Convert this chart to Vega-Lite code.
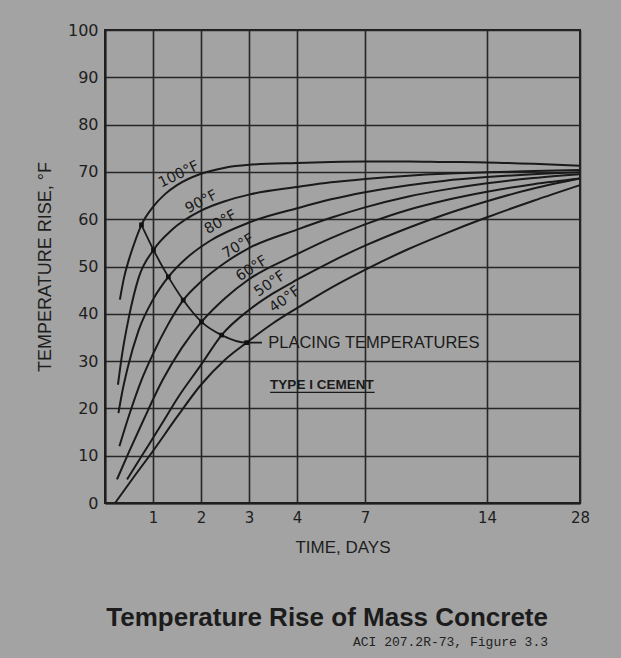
{
  "$schema": "https://vega.github.io/schema/vega-lite/v6.json",
  "width": 475,
  "height": 473,
  "autosize": {"type": "none"},
  "padding": {"left": 105, "top": 30, "right": 41, "bottom": 155},
  "background": "#a3a3a3",
  "config": {"view": {"stroke": "#1e1e1e", "strokeWidth": 2}},
  "title": {
    "text": "Temperature Rise of Mass Concrete",
    "subtitle": "ACI 207.2R-73, Figure 3.3",
    "orient": "bottom",
    "anchor": "end",
    "frame": "group",
    "dx": -32,
    "offset": 50,
    "font": "Liberation Sans",
    "fontSize": 26,
    "fontWeight": "bold",
    "color": "#1c1c1c",
    "subtitleFont": "Liberation Mono",
    "subtitleFontSize": 13,
    "subtitleColor": "#222222",
    "subtitlePadding": 5
  },
  "datasets": {
    "curves": [
      {"curve": "100", "t": 0.31, "v": 43}, {"curve": "100", "t": 0.4, "v": 47.8}, {"curve": "100", "t": 0.5, "v": 51.5}, {"curve": "100", "t": 0.6, "v": 54.6}, {"curve": "100", "t": 0.76, "v": 58.8}, {"curve": "100", "t": 1, "v": 62.6}, {"curve": "100", "t": 1.25, "v": 65.3}, {"curve": "100", "t": 1.5, "v": 67.2}, {"curve": "100", "t": 2, "v": 69.6}, {"curve": "100", "t": 2.5, "v": 70.9}, {"curve": "100", "t": 3, "v": 71.5}, {"curve": "100", "t": 4, "v": 71.9}, {"curve": "100", "t": 5.5, "v": 72.1}, {"curve": "100", "t": 7, "v": 72.2}, {"curve": "100", "t": 9.5, "v": 72.2}, {"curve": "100", "t": 11.5, "v": 72.1}, {"curve": "100", "t": 14, "v": 72}, {"curve": "100", "t": 21, "v": 71.7}, {"curve": "100", "t": 28, "v": 71.3},
      {"curve": "90", "t": 0.27, "v": 25}, {"curve": "90", "t": 0.35, "v": 31}, {"curve": "90", "t": 0.5, "v": 39.4}, {"curve": "90", "t": 0.7, "v": 47.6}, {"curve": "90", "t": 1.01, "v": 53.5}, {"curve": "90", "t": 1.4, "v": 57.8}, {"curve": "90", "t": 2, "v": 61.8}, {"curve": "90", "t": 2.5, "v": 63.8}, {"curve": "90", "t": 3, "v": 65.2}, {"curve": "90", "t": 4, "v": 66.8}, {"curve": "90", "t": 5.5, "v": 67.8}, {"curve": "90", "t": 7, "v": 68.5}, {"curve": "90", "t": 9.5, "v": 69.2}, {"curve": "90", "t": 11.5, "v": 69.6}, {"curve": "90", "t": 14, "v": 69.9}, {"curve": "90", "t": 21, "v": 70.2}, {"curve": "90", "t": 28, "v": 70.4},
      {"curve": "80", "t": 0.28, "v": 19}, {"curve": "80", "t": 0.35, "v": 23}, {"curve": "80", "t": 0.47, "v": 28.5}, {"curve": "80", "t": 0.7, "v": 36.5}, {"curve": "80", "t": 1, "v": 43}, {"curve": "80", "t": 1.32, "v": 47.8}, {"curve": "80", "t": 1.7, "v": 51.8}, {"curve": "80", "t": 2.2, "v": 55.5}, {"curve": "80", "t": 3, "v": 59.3}, {"curve": "80", "t": 4, "v": 62.3}, {"curve": "80", "t": 5.5, "v": 64.2}, {"curve": "80", "t": 7, "v": 65.7}, {"curve": "80", "t": 9.5, "v": 67.2}, {"curve": "80", "t": 11.5, "v": 68.1}, {"curve": "80", "t": 14, "v": 68.9}, {"curve": "80", "t": 21, "v": 69.5}, {"curve": "80", "t": 28, "v": 69.9},
      {"curve": "70", "t": 0.3, "v": 12}, {"curve": "70", "t": 0.5, "v": 18.5}, {"curve": "70", "t": 0.76, "v": 26}, {"curve": "70", "t": 1, "v": 31.5}, {"curve": "70", "t": 1.3, "v": 37.5}, {"curve": "70", "t": 1.63, "v": 42.9}, {"curve": "70", "t": 2, "v": 46.8}, {"curve": "70", "t": 2.5, "v": 50.8}, {"curve": "70", "t": 3, "v": 53.9}, {"curve": "70", "t": 4, "v": 57.8}, {"curve": "70", "t": 5.5, "v": 60.3}, {"curve": "70", "t": 7, "v": 62.5}, {"curve": "70", "t": 9.5, "v": 64.8}, {"curve": "70", "t": 11.5, "v": 66.2}, {"curve": "70", "t": 14, "v": 67.6}, {"curve": "70", "t": 21, "v": 68.7}, {"curve": "70", "t": 28, "v": 69.5},
      {"curve": "60", "t": 0.25, "v": 5}, {"curve": "60", "t": 0.5, "v": 10.8}, {"curve": "60", "t": 0.8, "v": 17.5}, {"curve": "60", "t": 1.2, "v": 26}, {"curve": "60", "t": 1.6, "v": 32.8}, {"curve": "60", "t": 2.01, "v": 38.3}, {"curve": "60", "t": 2.5, "v": 43.3}, {"curve": "60", "t": 3, "v": 47.3}, {"curve": "60", "t": 4, "v": 52.6}, {"curve": "60", "t": 5.5, "v": 56}, {"curve": "60", "t": 7, "v": 58.9}, {"curve": "60", "t": 9.5, "v": 62}, {"curve": "60", "t": 11.5, "v": 63.9}, {"curve": "60", "t": 14, "v": 65.8}, {"curve": "60", "t": 21, "v": 67.4}, {"curve": "60", "t": 28, "v": 68.6},
      {"curve": "50", "t": 0.46, "v": 5}, {"curve": "50", "t": 0.8, "v": 10.5}, {"curve": "50", "t": 1.2, "v": 17}, {"curve": "50", "t": 1.5, "v": 22}, {"curve": "50", "t": 2, "v": 29.2}, {"curve": "50", "t": 2.43, "v": 35.5}, {"curve": "50", "t": 3, "v": 40.8}, {"curve": "50", "t": 3.5, "v": 44.3}, {"curve": "50", "t": 4, "v": 47.2}, {"curve": "50", "t": 5.5, "v": 51}, {"curve": "50", "t": 7, "v": 54.4}, {"curve": "50", "t": 9.5, "v": 58.2}, {"curve": "50", "t": 11.5, "v": 60.9}, {"curve": "50", "t": 14, "v": 63.8}, {"curve": "50", "t": 21, "v": 66.5}, {"curve": "50", "t": 28, "v": 68.6},
      {"curve": "40", "t": 0.21, "v": 0}, {"curve": "40", "t": 0.6, "v": 5.5}, {"curve": "40", "t": 1, "v": 11}, {"curve": "40", "t": 1.5, "v": 18.2}, {"curve": "40", "t": 2, "v": 25}, {"curve": "40", "t": 2.5, "v": 30.3}, {"curve": "40", "t": 2.95, "v": 33.9}, {"curve": "40", "t": 3.5, "v": 38}, {"curve": "40", "t": 4, "v": 41.2}, {"curve": "40", "t": 5.5, "v": 45.5}, {"curve": "40", "t": 7, "v": 49.3}, {"curve": "40", "t": 9.5, "v": 53.7}, {"curve": "40", "t": 11.5, "v": 56.8}, {"curve": "40", "t": 14, "v": 60.4}, {"curve": "40", "t": 21, "v": 63.9}, {"curve": "40", "t": 28, "v": 67.2}
    ],
    "placing": [
      {"t": 0.76, "v": 58.8}, {"t": 1.01, "v": 53.5}, {"t": 1.32, "v": 47.8}, {"t": 1.63, "v": 42.9}, {"t": 2.01, "v": 38.3}, {"t": 2.43, "v": 35.5}, {"t": 2.95, "v": 33.9}, {"t": 3.27, "v": 33.9}
    ],
    "markers": [
      {"t": 0.76, "v": 58.8}, {"t": 1.01, "v": 53.5}, {"t": 1.32, "v": 47.8}, {"t": 1.63, "v": 42.9}, {"t": 2.01, "v": 38.3}, {"t": 2.43, "v": 35.5}, {"t": 2.95, "v": 33.9}
    ],
    "labels": [
      {"label": "100°F", "temp": 100, "t": 1.54, "v": 69.4},
      {"label": "90°F", "temp": 90, "t": 2.01, "v": 63.6},
      {"label": "80°F", "temp": 80, "t": 2.41, "v": 59.3},
      {"label": "70°F", "temp": 70, "t": 2.78, "v": 54.2},
      {"label": "60°F", "temp": 60, "t": 3.06, "v": 49.5},
      {"label": "50°F", "temp": 50, "t": 3.44, "v": 46.3},
      {"label": "40°F", "temp": 40, "t": 3.75, "v": 43}
    ],
    "notes": [
      {"label": "PLACING TEMPERATURES", "t": 3.4, "v": 33.9}
    ],
    "cement": [
      {"label": "TYPE I CEMENT", "t": 3.44, "v": 24.9}
    ],
    "underline": [
      {"t": 3.44, "t2": 7.55, "v": 23.4}
    ]
  },
  "encoding": {
    "x": {
      "field": "t",
      "type": "quantitative",
      "scale": {"domain": [0, 4, 7, 14, 28], "range": [0, 192, 260, 382, 475], "nice": false, "zero": false},
      "axis": {
        "values": [1, 2, 3, 4, 7, 14, 28],
        "ticks": false,
        "grid": true,
        "gridColor": "#262626",
        "gridWidth": 1.6,
        "gridOpacity": 1,
        "domainColor": "#1e1e1e",
        "domainWidth": 2.2,
        "labelFont": "DejaVu Sans",
        "labelFontSize": 15,
        "labelColor": "#1e1e1e",
        "labelPadding": 7,
        "labelFlush": false,
        "labelOverlap": false,
        "labelBound": false,
        "title": "TIME, DAYS",
        "titleFont": "Liberation Sans",
        "titleFontSize": 17,
        "titleFontWeight": "normal",
        "titleColor": "#1e1e1e",
        "titlePadding": 14
      }
    },
    "y": {
      "field": "v",
      "type": "quantitative",
      "scale": {"domain": [0, 100], "nice": false, "zero": false},
      "axis": {
        "values": [0, 10, 20, 30, 40, 50, 60, 70, 80, 90, 100],
        "ticks": false,
        "grid": true,
        "gridColor": "#262626",
        "gridWidth": 1.6,
        "gridOpacity": 1,
        "domainColor": "#1e1e1e",
        "domainWidth": 2.2,
        "labelFont": "DejaVu Sans",
        "labelFontSize": 16,
        "labelColor": "#1e1e1e",
        "labelPadding": 7,
        "labelFlush": false,
        "labelOverlap": false,
        "labelBound": false,
        "title": "TEMPERATURE RISE, °F",
        "titleFont": "Liberation Sans",
        "titleFontSize": 18,
        "titleFontWeight": "normal",
        "titleColor": "#1e1e1e",
        "titlePadding": 13
      }
    }
  },
  "layer": [
    {
      "data": {"name": "curves"},
      "mark": {"type": "line", "interpolate": "monotone", "color": "#1a1a1a", "strokeWidth": 2},
      "encoding": {"detail": {"field": "curve", "type": "nominal"}}
    },
    {
      "data": {"name": "placing"},
      "mark": {"type": "line", "interpolate": "monotone", "color": "#1a1a1a", "strokeWidth": 1.8},
      "encoding": {}
    },
    {
      "data": {"name": "markers"},
      "mark": {"type": "point", "shape": "square", "filled": true, "color": "#111111", "size": 22, "opacity": 1},
      "encoding": {}
    },
    {
      "data": {"name": "labels"},
      "mark": {"type": "text", "font": "DejaVu Sans", "fontSize": 14.5, "color": "#1a1a1a", "align": "center", "baseline": "middle"},
      "encoding": {
        "text": {"field": "label", "type": "nominal"},
        "angle": {"field": "temp", "type": "quantitative", "scale": {"domain": [40, 100], "range": [-36, -26]}, "legend": null}
      }
    },
    {
      "data": {"name": "notes"},
      "mark": {"type": "text", "font": "Liberation Sans", "fontSize": 16.5, "color": "#1a1a1a", "align": "left", "baseline": "middle"},
      "encoding": {"text": {"field": "label", "type": "nominal"}}
    },
    {
      "data": {"name": "cement"},
      "mark": {"type": "text", "font": "Liberation Sans", "fontSize": 13.5, "fontWeight": "bold", "color": "#1a1a1a", "align": "left", "baseline": "middle"},
      "encoding": {"text": {"field": "label", "type": "nominal"}}
    },
    {
      "data": {"name": "underline"},
      "mark": {"type": "rule", "color": "#1a1a1a", "strokeWidth": 1.3},
      "encoding": {"x2": {"field": "t2"}}
    }
  ]
}
